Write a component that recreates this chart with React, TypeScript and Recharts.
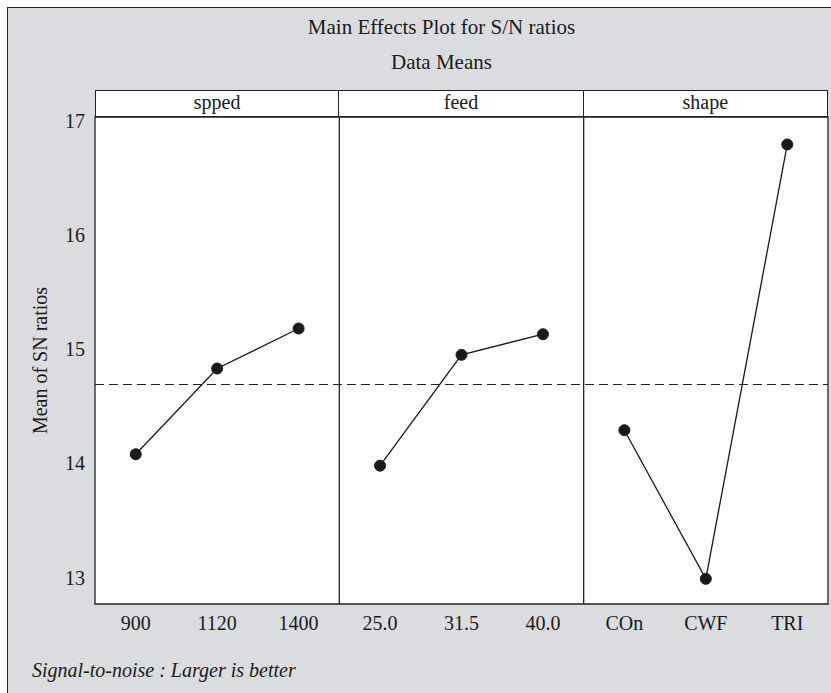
import React from 'react';
import {
  LineChart,
  Line,
  XAxis,
  YAxis,
  ReferenceLine,
  ReferenceArea,
} from 'recharts';

// factor levels and mean S/N ratios
const factorNames = ['spped', 'feed', 'shape'];
const speedLevels = ['900', '1120', '1400'];
const speedMeans = [14.08, 14.83, 15.18];
const feedLevels = ['25.0', '31.5', '40.0'];
const feedMeans = [13.98, 14.95, 15.13];
const shapeLevels = ['COn', 'CWF', 'TRI'];
const shapeMeans = [14.29, 12.99, 16.79];
const overallMean = 14.69;
const yTicks = [13, 14, 15, 16, 17];

const FONT = "'Liberation Serif', 'DejaVu Serif', serif";
const INK = '#1a1a1a';

const allLevels = [...speedLevels, ...feedLevels, ...shapeLevels];
const xTicks = allLevels.map((_, i) => i + 0.5);

function toSeries(means: number[], offset: number) {
  return means.map((v, i) => ({ x: offset + i + 0.5, y: v }));
}

const speedData = toSeries(speedMeans, 0);
const feedData = toSeries(feedMeans, 3);
const shapeData = toSeries(shapeMeans, 6);

const Y_MIN = 12.77;
const Y_MAX = 17.03;

// plot frame in page coordinates
const PLOT_LEFT = 95;
const PLOT_RIGHT = 828;
const PLOT_TOP = 117;
const PLOT_BOTTOM = 604;
const STRIP_TOP = 90;

export default function App() {
  const W = 831;
  const H = 693;
  const panelW = (PLOT_RIGHT - PLOT_LEFT) / 3;
  const dot = { r: 5.5, fill: INK, stroke: INK, strokeWidth: 1 };

  return (
    <div style={{ position: 'absolute', left: 0, top: 0, width: W, height: H, fontFamily: FONT, overflow: 'hidden' }}>
      <div
        style={{
          position: 'absolute',
          left: 7,
          top: 7,
          width: W,
          height: H,
          background: '#dbdce0',
          borderLeft: '1.5px solid #222',
          borderTop: '1.5px solid #222',
        }}
      />
      <div style={{ position: 'absolute', left: 0, width: 883, top: 15, textAlign: 'center', fontSize: 21, color: INK }}>
        Main Effects Plot for S/N ratios
      </div>
      <div style={{ position: 'absolute', left: 0, width: 883, top: 50, textAlign: 'center', fontSize: 21, color: INK }}>
        Data Means
      </div>

      {/* facet strip */}
      {factorNames.map((name, i) => (
        <div
          key={name}
          style={{
            position: 'absolute',
            left: PLOT_LEFT + i * panelW,
            top: STRIP_TOP,
            width: panelW,
            height: PLOT_TOP - STRIP_TOP,
            boxSizing: 'border-box',
            background: '#fff',
            border: '1.3px solid #222',
            borderLeftWidth: i === 0 ? 1.3 : 0,
            textAlign: 'center',
            fontSize: 20,
            lineHeight: '23px',
            color: INK,
          }}
        >
          {name}
        </div>
      ))}

      <div style={{ position: 'absolute', left: 0, top: 0 }}>
        <LineChart
          width={W}
          height={H}
          margin={{ top: PLOT_TOP, left: PLOT_LEFT - 45, right: W - PLOT_RIGHT, bottom: H - PLOT_BOTTOM - 40 }}
        >
          <ReferenceArea
            x1={0}
            x2={9}
            y1={Y_MIN}
            y2={Y_MAX}
            fill="#fff"
            fillOpacity={1}
            stroke="#222"
            strokeWidth={1.3}
          />
          <XAxis
            type="number"
            dataKey="x"
            domain={[0, 9]}
            ticks={xTicks}
            tickFormatter={(v: number) => allLevels[Math.floor(v)]}
            interval={0}
            height={40}
            axisLine={false}
            tickLine={false}
            tickMargin={6}
            tick={{ fontSize: 20, fill: INK, fontFamily: FONT }}
            allowDuplicatedCategory={false}
          />
          <YAxis
            type="number"
            domain={[Y_MIN, Y_MAX]}
            ticks={yTicks}
            width={45}
            axisLine={false}
            tickLine={false}
            tickMargin={4}
            tick={{ fontSize: 20, fill: INK, fontFamily: FONT }}
            label={{
              value: 'Mean of SN ratios',
              angle: -90,
              position: 'insideLeft',
              offset: -2,
              dx: -8,
              style: { fontSize: 20, fill: INK, fontFamily: FONT, textAnchor: 'middle' },
            }}
          />
          <ReferenceLine x={3} stroke="#222" strokeWidth={1.3} />
          <ReferenceLine x={6} stroke="#222" strokeWidth={1.3} />
          <ReferenceLine y={overallMean} stroke="#222" strokeWidth={1.2} strokeDasharray="9 5" />
          <Line data={speedData} dataKey="y" type="linear" stroke={INK} strokeWidth={1.3} dot={dot} isAnimationActive={false} />
          <Line data={feedData} dataKey="y" type="linear" stroke={INK} strokeWidth={1.3} dot={dot} isAnimationActive={false} />
          <Line data={shapeData} dataKey="y" type="linear" stroke={INK} strokeWidth={1.3} dot={dot} isAnimationActive={false} />
        </LineChart>
      </div>

      <div style={{ position: 'absolute', left: 32, top: 659, fontSize: 20, fontStyle: 'italic', color: INK }}>
        Signal-to-noise : Larger is better
      </div>
    </div>
  );
}
